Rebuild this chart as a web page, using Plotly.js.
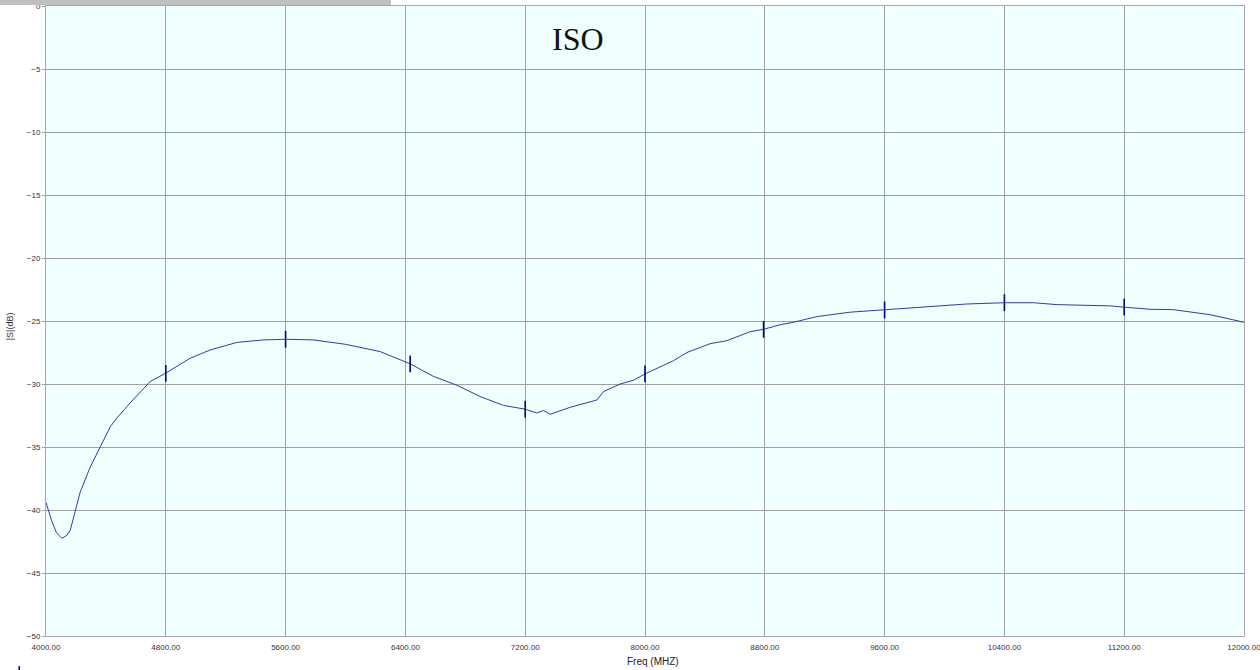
<!DOCTYPE html>
<html>
<head>
<meta charset="utf-8">
<script src="https://cdn.plot.ly/plotly-3.0.1.min.js"></script>
<style>html,body{margin:0;padding:0;background:#fff;overflow:hidden}#chart{width:1260px;height:670px}</style>
</head>
<body>
<div id="chart"></div>
<script>
const freq = [4000,4039,4070,4106,4140,4162,4195,4228,4295,4362,4429,4473,4562,4696,4798,4962,5096,5275,5452,5600,5784,6000,6100,6232,6432,6588,6744,6900,7055,7200,7278,7322,7367,7500,7679,7723,7834,7923,8000,8079,8190,8280,8435,8547,8702,8792,8902,8992,9148,9370,9600,9860,9993,10149,10400,10594,10750,11106,11195,11373,11529,11774,12000];
const sdb = [-39.4,-40.9,-41.8,-42.25,-42.0,-41.6,-40.1,-38.6,-36.6,-35.0,-33.4,-32.7,-31.5,-29.8,-29.15,-27.96,-27.3,-26.7,-26.5,-26.45,-26.5,-26.85,-27.1,-27.43,-28.4,-29.4,-30.1,-31.0,-31.7,-32.0,-32.3,-32.1,-32.4,-31.85,-31.27,-30.6,-30.0,-29.7,-29.2,-28.75,-28.15,-27.5,-26.8,-26.56,-25.85,-25.66,-25.3,-25.1,-24.65,-24.3,-24.12,-23.9,-23.8,-23.65,-23.55,-23.55,-23.7,-23.8,-23.9,-24.07,-24.1,-24.5,-25.1];
const markerFreq = [4800,5600,6432,7200,8000,8792,9600,10400,11200];
const markerDb = [-29.15,-26.45,-28.4,-32.0,-29.2,-25.66,-24.12,-23.55,-23.9];
const xTicks = [4000,4800,5600,6400,7200,8000,8800,9600,10400,11200,12000];
const yTicks = [0,-5,-10,-15,-20,-25,-30,-35,-40,-45,-50];

const traces = [
  {x: freq, y: sdb, type: 'scatter', mode: 'lines', line: {color: '#3838a8', width: 1}, hoverinfo: 'x+y'},
  {x: markerFreq, y: markerDb, type: 'scatter', mode: 'markers',
   marker: {symbol: 'line-ns-open', size: 12, color: '#000080', line: {color: '#000080', width: 1.6}}}
];

const tickFont = {family: 'Liberation Sans, Arial, sans-serif', size: 8, color: '#333333'};
const layout = {
  width: 1260, height: 670,
  margin: {l: 46, r: 16, t: 6, b: 34},
  paper_bgcolor: '#ffffff',
  plot_bgcolor: '#f0ffff',
  showlegend: false,
  xaxis: {
    range: [4000, 12000], tickvals: xTicks, tickformat: '.2f',
    showgrid: true, gridcolor: '#a0a0a0', gridwidth: 1,
    showline: true, linecolor: '#a8a8a8', linewidth: 1, mirror: true,
    ticks: 'outside', ticklen: 3, tickcolor: 'rgba(0,0,0,0)', ticklabeloverflow: 'allow',
    tickfont: tickFont, zeroline: false, fixedrange: true
  },
  yaxis: {
    range: [-50, 0], tickvals: yTicks,
    showgrid: true, gridcolor: '#a0a0a0', gridwidth: 1,
    showline: true, linecolor: '#a8a8a8', linewidth: 1, mirror: true,
    ticks: 'outside', ticklen: 3, tickcolor: '#a0a0a0', tickfont: tickFont, zeroline: false, fixedrange: true
  },
  annotations: [
    {text: 'ISO', xref: 'paper', yref: 'paper', x: 0.444, y: 0.947, xanchor: 'center', yanchor: 'middle', showarrow: false,
     font: {family: 'Liberation Serif, Times New Roman, serif', size: 32, color: '#111111'}},
    {text: 'Freq (MHZ)', xref: 'paper', yref: 'paper', x: 0.507, y: -0.041, xanchor: 'center', yanchor: 'middle', showarrow: false,
     font: {family: 'Liberation Sans, Arial, sans-serif', size: 10, color: '#222222'}},
    {text: '|S|(dB)', xref: 'paper', yref: 'paper', x: -0.0299, y: 0.492, xanchor: 'center', yanchor: 'middle', textangle: -90, showarrow: false,
     font: {family: 'Liberation Sans, Arial, sans-serif', size: 9, color: '#333333'}}
  ],
  shapes: [
    {type: 'rect', xref: 'paper', yref: 'paper', x0: -0.0385, x1: 0.288, y0: 1.0016, y1: 1.0095,
     fillcolor: '#c0c0c0', line: {width: 0}, layer: 'above'},
    {type: 'line', xref: 'paper', yref: 'paper', x0: -0.0224, x1: -0.0224, y0: -0.0476, y1: -0.054,
     line: {color: '#000080', width: 1.5}}
  ]
};
Plotly.newPlot('chart', traces, layout, {displayModeBar: false, staticPlot: true});
</script>
</body>
</html>
